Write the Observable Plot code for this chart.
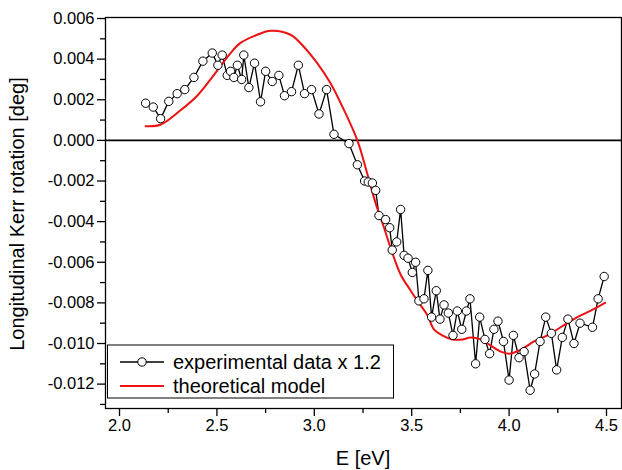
<!DOCTYPE html>
<html><head><meta charset="utf-8">
<script src="https://cdn.jsdelivr.net/npm/d3@7"></script>
<script src="https://cdn.jsdelivr.net/npm/@observablehq/plot@0.6"></script>
<style>
body{margin:0;background:#fff;font-family:"Liberation Sans",Arial,sans-serif;}
#wrap{position:relative;width:622px;height:470px;}
#legend{position:absolute;left:0;top:0;}
</style></head><body>
<div id="wrap"></div>
<script>
const expE = [2.134,2.173,2.211,2.253,2.296,2.335,2.382,2.428,2.476,2.505,2.527,2.553,2.570,2.587,2.605,2.627,2.638,2.664,2.693,2.724,2.750,2.784,2.818,2.847,2.883,2.918,2.950,2.986,3.024,3.063,3.101,3.178,3.221,3.258,3.277,3.298,3.315,3.332,3.366,3.387,3.400,3.423,3.443,3.461,3.481,3.503,3.520,3.537,3.563,3.583,3.602,3.626,3.645,3.666,3.688,3.712,3.734,3.757,3.781,3.799,3.828,3.849,3.876,3.900,3.922,3.943,3.971,4.000,4.022,4.051,4.077,4.108,4.131,4.159,4.188,4.217,4.244,4.273,4.302,4.333,4.364,4.428,4.457,4.488];
const expK = [0.00183,0.00164,0.00107,0.00192,0.0023,0.0025,0.0031,0.0039,0.0043,0.0037,0.0042,0.0032,0.0034,0.0031,0.0037,0.0030,0.0042,0.0026,0.0038,0.0019,0.0034,0.0029,0.0032,0.0022,0.0024,0.0037,0.0023,0.0025,0.0013,0.0025,0.0003,-0.00016,-0.0012,-0.0020,-0.00205,-0.0021,-0.00246,-0.0037,-0.0039,-0.0043,-0.0054,-0.0050,-0.0034,-0.00566,-0.0058,-0.0065,-0.0060,-0.0079,-0.0078,-0.0064,-0.0087,-0.0074,-0.0088,-0.0081,-0.0085,-0.0096,-0.0084,-0.0093,-0.0084,-0.0078,-0.0110,-0.0087,-0.0098,-0.0105,-0.0093,-0.0089,-0.0099,-0.0118,-0.0096,-0.0107,-0.0104,-0.0123,-0.0115,-0.0099,-0.0087,-0.0095,-0.0113,-0.0097,-0.0088,-0.0100,-0.0090,-0.0092,-0.0078,-0.0067];
const modelE = [2.134,2.21,2.313,2.399,2.483,2.57,2.621,2.707,2.776,2.878,2.947,3.015,3.084,3.152,3.221,3.272,3.315,3.358,3.392,3.443,3.495,3.537,3.58,3.614,3.657,3.709,3.76,3.803,3.854,3.905,3.957,4.0,4.06,4.128,4.197,4.265,4.351,4.436,4.493];
const modelK = [0.0007,0.00077,0.00148,0.0022,0.0032,0.0043,0.0048,0.0052,0.0054,0.0052,0.0046,0.0038,0.0028,0.0015,0.0,-0.00164,-0.0031,-0.0043,-0.0053,-0.0066,-0.0074,-0.0080,-0.0086,-0.0093,-0.0096,-0.0098,-0.0098,-0.0097,-0.0098,-0.0101,-0.0104,-0.0105,-0.0103,-0.0099,-0.0096,-0.0092,-0.0087,-0.0083,-0.0080];
const xTicks = [2.0,2.5,3.0,3.5,4.0,4.5];
const xTickLabels = ["2.0","2.5","3.0","3.5","4.0","4.5"];
const xMinor = [2.25,2.75,3.25,3.75,4.25];
const yTicks = [0.006,0.004,0.002,0.000,-0.002,-0.004,-0.006,-0.008,-0.010,-0.012];
const yTickLabels = ["0.006","0.004","0.002","0.000","-0.002","-0.004","-0.006","-0.008","-0.010","-0.012"];
const yMinor = [0.005,0.003,0.001,-0.001,-0.003,-0.005,-0.007,-0.009,-0.011,-0.013];
const legendLabels = ["experimental data x 1.2","theoretical model"];

const exp = expE.map((e,i)=>({E:e,K:expK[i]}));
const model = modelE.map((e,i)=>({E:e,K:modelK[i]}));

const chart = Plot.plot({
  width:622, height:470,
  marginLeft:105, marginRight:1, marginTop:17, marginBottom:62,
  style:{fontFamily:"'Liberation Sans',Arial,sans-serif", fontSize:"16px", color:"black", background:"white"},
  x:{domain:[1.928,4.577]},
  y:{domain:[-0.0132,0.00605]},
  marks:[
    Plot.ruleY([0],{stroke:"black",strokeWidth:1.6}),
    Plot.line(exp,{x:"E",y:"K",stroke:"black",strokeWidth:1.3}),
    Plot.line(model,{x:"E",y:"K",stroke:"#ee1111",strokeWidth:2,curve:"catmull-rom"}),
    Plot.dot(exp,{x:"E",y:"K",r:4.2,fill:"white",stroke:"black",strokeWidth:1}),
    Plot.axisX(xTicks,{tickSize:8,tickPadding:3,tickFormat:(d)=>xTickLabels[xTicks.indexOf(d)],fontSize:16.5,label:null,strokeWidth:1.3}),
    Plot.axisX(xMinor,{tickSize:5,tickFormat:()=>"",label:null,strokeWidth:1.3}),
    Plot.axisY(yTicks,{tickSize:8,tickPadding:3,tickFormat:(d)=>yTickLabels[yTicks.indexOf(d)],fontSize:16.5,label:null,strokeWidth:1.3}),
    Plot.axisY(yMinor.filter(v=>v>-0.0132),{tickSize:5,tickFormat:()=>"",label:null,strokeWidth:1.3}),
    Plot.frame({stroke:"black",strokeWidth:1.3})
  ]
});
const wrap = document.getElementById("wrap");
wrap.appendChild(chart);

// axis titles and legend as overlay SVG
const ns="http://www.w3.org/2000/svg";
const ov=document.createElementNS(ns,"svg");
ov.setAttribute("id","legend");ov.setAttribute("width",622);ov.setAttribute("height",470);
ov.style.fontFamily="'Liberation Sans',Arial,sans-serif";
ov.innerHTML=`
<text x="363" y="465" text-anchor="middle" font-size="20">E [eV]</text>
<text transform="translate(24,214) rotate(-90)" text-anchor="middle" font-size="20">Longitudinal Kerr rotation [deg]</text>
<rect x="107.5" y="345" width="286" height="53" fill="white" stroke="black" stroke-width="1"/>
<line x1="120" x2="164" y1="362" y2="362" stroke="black" stroke-width="1.3"/>
<circle cx="142" cy="362" r="4.2" fill="white" stroke="black"/>
<line x1="120" x2="164" y1="386" y2="386" stroke="#ee1111" stroke-width="2"/>
<text x="173" y="369" font-size="20">${legendLabels[0]}</text>
<text x="173" y="393" font-size="20">${legendLabels[1]}</text>`;
wrap.appendChild(ov);
</script>
</body></html>
